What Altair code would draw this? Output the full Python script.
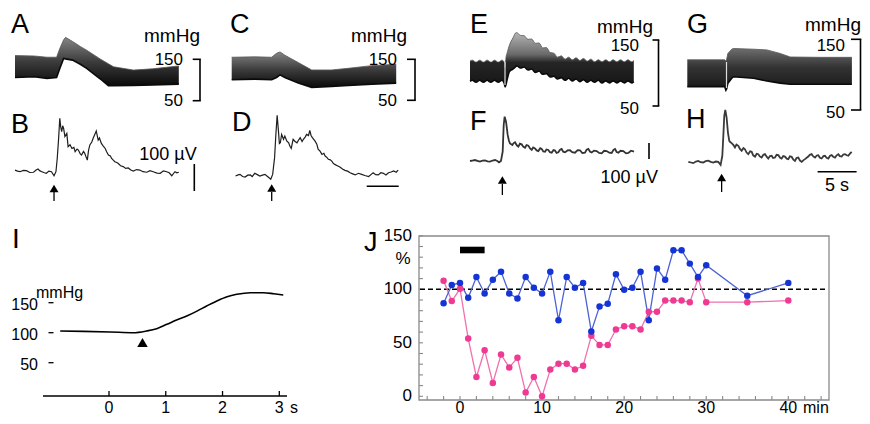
import altair as alt
import pandas as pd

OX, OY = 8, 8
FONT = "Liberation Sans"

# ---------------- data ----------------
# arterial pressure envelopes: (time s, systolic mmHg, diastolic mmHg)
a_bp = [(0, 159, 106), (3, 158, 108), (5, 155, 104), (6.5, 155, 106), (7.0, 176, 128),
        (7.6, 197, 152), (7.9, 203, 151), (9, 193, 148), (10.2, 181, 138), (11.2, 172, 128),
        (13.3, 151, 103), (14.6, 139, 86), (15.4, 132, 86), (18.5, 124, 87), (21.5, 127, 88),
        (25.6, 134, 90)]
c_bp = [(0, 155, 100), (3.6, 156, 101.7), (6.25, 155, 100), (7.0, 164.5, 105.6), (7.55, 168, 112),
        (8.3, 160, 105.6), (10.4, 142, 92), (12.5, 124, 81.4), (15.6, 124, 84), (18.2, 128, 86),
        (21.9, 134.5, 89), (25.7, 138, 92)]
e_bp = [(0.0, 118, 87.5), (0.3, 119.5, 89), (0.78, 116.5, 86), (1.25, 119.5, 89), (1.73, 116.5, 86),
        (2.2, 119.5, 89), (2.68, 116.5, 86), (3.15, 119.5, 89), (3.63, 116.5, 86), (4.1, 119.5, 89),
        (4.4, 116, 84), (4.5, 108, 79), (4.6, 122, 82), (4.8, 132, 92), (5.05, 142, 102),
        (5.5, 153, 106), (5.9, 161, 110), (6.0, 161, 111), (6.48, 157, 107.5), (6.95, 156.5, 109),
        (7.43, 151, 104.5), (7.9, 151.5, 106), (8.38, 145, 101), (8.85, 145.5, 103), (9.33, 138, 98),
        (9.8, 138.5, 99), (10.28, 131, 94), (10.75, 130, 95), (11.23, 124, 91), (11.7, 126, 93),
        (12.18, 121, 89), (12.65, 124, 92), (13.13, 120, 88), (13.6, 123, 91), (14.08, 119, 87),
        (14.55, 122, 90), (15.03, 118, 86), (15.5, 121, 89), (15.98, 117, 86), (16.45, 120, 89),
        (16.93, 117, 85), (17.4, 120, 88), (17.88, 117, 85), (18.35, 120, 88), (18.83, 117, 85),
        (19.3, 120, 88), (19.78, 117, 85), (20.25, 120, 88), (20.73, 117, 85), (21.0, 119, 87)]
g_bp = [(0, 121, 83), (2, 121, 83), (4.8, 121, 83), (4.95, 119, 78), (5.05, 122, 80),
        (5.2, 130, 88), (5.7, 136, 95), (5.9, 137, 97), (8.5, 136, 95), (10.2, 135, 91),
        (11.9, 130, 88), (13.2, 125, 86.5), (17.0, 124.5, 86.5), (21.1, 124.5, 86.5)]

# nerve activity traces: (time s, microvolts above baseline)
b_nerve = [(0.0, 6), (0.4, 2), (0.8, 0), (1.3, 5), (1.8, 4), (2.3, -3), (2.9, -2), (3.3, 6), (3.6, 10),
           (3.9, 3), (4.2, 0), (4.6, -4), (4.9, -6), (5.3, 2), (5.7, 0), (6.1, -15), (6.4, 0),
           (6.6, 49), (6.8, 117), (7.0, 198), (7.15, 165), (7.3, 148), (7.45, 170), (7.6, 160),
           (7.8, 130), (8.1, 142), (8.3, 93), (8.6, 100), (8.9, 86), (9.2, 90), (9.4, 74), (9.7, 84),
           (9.9, 80), (10.2, 66), (10.4, 62), (10.7, 75), (10.9, 68), (11.1, 55), (11.3, 43),
           (11.5, 80), (11.7, 99), (12.0, 110), (12.2, 123), (12.5, 140), (12.7, 151), (13.0, 117),
           (13.2, 125), (13.5, 105), (13.8, 95), (14.1, 86), (14.3, 75), (14.6, 62), (14.9, 58),
           (15.1, 49), (15.4, 42), (15.6, 37), (15.9, 34), (16.1, 31), (16.5, 22), (16.9, 19),
           (17.3, 12), (17.7, 14), (18.1, 6), (18.5, 2), (19.0, 8), (19.5, 6), (20.0, 0), (20.6, -2),
           (21.1, 4), (21.6, 0), (22.2, -5), (22.7, -6), (23.2, 3), (23.7, 0), (24.1, -4),
           (24.5, -15), (25.0, 0), (25.3, -4), (25.6, -2)]
d_nerve = [(0.6, 0), (1.0, 4), (1.3, 6), (1.7, -2), (2.1, -4), (2.5, 3), (2.9, 4), (3.2, -2), (3.6, 10),
           (4.0, 5), (4.4, 0), (4.8, 3), (5.2, 6), (5.5, 0), (5.7, -4), (6.1, -12), (6.4, 6), (6.7, 68),
           (6.9, 154), (7.1, 225), (7.3, 167), (7.45, 120), (7.6, 123), (7.8, 154), (8.1, 136),
           (8.3, 148), (8.6, 130), (8.9, 123), (9.1, 110), (9.3, 102), (9.6, 136), (9.9, 128),
           (10.2, 123), (10.5, 135), (10.7, 142), (11.0, 128), (11.2, 136), (11.5, 145), (11.7, 154),
           (12.0, 150), (12.2, 169), (12.4, 150), (12.6, 142), (13.0, 130), (13.3, 118), (13.5, 99),
           (13.8, 92), (14.1, 80), (14.4, 84), (14.6, 74), (14.9, 68), (15.1, 62), (15.4, 60),
           (15.6, 56), (15.9, 46), (16.1, 43), (16.5, 38), (16.9, 33), (17.3, 26), (17.7, 21),
           (18.1, 18), (18.5, 12), (18.9, 8), (19.3, 4), (19.8, 10), (20.3, 6), (20.8, 2), (21.4, -2),
           (21.8, 6), (22.1, 12), (22.5, 5), (22.9, 4), (23.3, 12), (23.7, 10), (24.1, 4), (24.5, 12),
           (24.9, 15), (25.3, 19), (25.7, 14), (26.0, 22)]
f_nerve = [(0, 0), (0.3, 3), (0.64, 6), (0.95, 1), (1.28, -4), (1.6, 2), (1.92, 4), (2.25, -2),
           (2.56, -4), (2.9, 3), (3.21, 6), (3.5, 0), (3.72, -8), (3.97, 0), (4.19, 58), (4.32, 225),
           (4.44, 277), (4.62, 246), (4.83, 163), (5.0, 125), (5.13, 110), (5.43, 100), (5.6, 112),
           (5.77, 117), (6.0, 98), (6.2, 90), (6.4, 108), (6.62, 104), (6.85, 88), (7.05, 83),
           (7.25, 100), (7.48, 96), (7.7, 78), (7.91, 69), (8.1, 85), (8.33, 79), (8.55, 66),
           (8.76, 62), (9.0, 80), (9.19, 75), (9.4, 60), (9.62, 58), (9.8, 72), (10.04, 69),
           (10.25, 55), (10.47, 52), (10.7, 68), (10.9, 65), (11.1, 50), (11.32, 54), (11.55, 70),
           (11.75, 75), (11.95, 58), (12.18, 54), (12.5, 66), (12.82, 67), (13.1, 55), (13.46, 52),
           (13.8, 68), (14.1, 67), (14.4, 50), (14.74, 52), (14.95, 70), (15.17, 75), (15.4, 58),
           (15.6, 54), (15.9, 65), (16.24, 62), (16.55, 50), (16.88, 48), (17.2, 64), (17.52, 62),
           (17.85, 52), (18.16, 50), (18.4, 70), (18.59, 75), (18.8, 56), (19.02, 52), (19.3, 64),
           (19.66, 62), (20.0, 48), (20.3, 50), (20.65, 64), (21.03, 58)]
h_nerve = [(0.13, 4), (0.45, 0), (0.77, -4), (1.1, 6), (1.41, 10), (1.7, 2), (2.05, 0), (2.35, 8),
           (2.69, 12), (3.0, 4), (3.33, 0), (3.65, 6), (3.97, 4), (4.27, -15), (4.49, 42), (4.62, 167),
           (4.74, 292), (4.87, 328), (5.04, 281), (5.21, 187), (5.38, 135), (5.5, 128), (5.68, 121),
           (5.9, 110), (6.11, 94), (6.3, 112), (6.54, 104), (6.75, 85), (6.97, 73), (7.2, 90),
           (7.39, 83), (7.6, 62), (7.82, 52), (8.05, 70), (8.25, 67), (8.45, 45), (8.68, 37),
           (8.9, 55), (9.1, 52), (9.3, 38), (9.53, 31), (9.75, 48), (9.96, 52), (10.2, 35),
           (10.38, 25), (10.6, 40), (10.81, 42), (11.0, 28), (11.24, 31), (11.45, 48), (11.67, 46),
           (11.9, 30), (12.09, 25), (12.3, 40), (12.52, 37), (12.75, 24), (12.95, 21), (13.15, 38),
           (13.38, 35), (13.6, 18), (13.8, 10), (14.0, 28), (14.23, 31), (14.45, 12), (14.66, 4),
           (14.9, 15), (15.09, 21), (15.3, 30), (15.51, 37), (15.7, 48), (15.94, 52), (16.15, 38),
           (16.37, 31), (16.6, 44), (16.79, 46), (17.0, 30), (17.22, 25), (17.45, 40), (17.65, 42),
           (17.85, 30), (18.08, 25), (18.3, 42), (18.5, 46), (18.7, 36), (18.93, 31), (19.15, 45),
           (19.36, 52), (19.55, 40), (19.79, 37), (20.0, 50), (20.21, 52), (20.45, 45), (20.64, 42),
           (20.85, 55), (21.07, 67)]
stim_t = {"B": 6.1, "D": 6.25, "F": 4.15, "H": 4.4}
bp_bracket = [50, 150]

# panel I: pressure vs time
i_t = [-0.86, -0.45, 0.02, 0.43, 0.66, 0.84, 1.02, 1.19, 1.37, 1.55, 1.72, 1.9, 2.08, 2.25, 2.49,
       2.72, 2.9, 3.07]
i_bp = [102.8, 102.2, 101.2, 100, 102.8, 106.7, 114, 121, 127.8, 136, 144.5, 153, 160, 164, 166.7,
        166.7, 165, 162.8]
i_stim = [0.59]
i_xticks = [0, 1, 2, 3]
i_xlabels = ["0", "1", "2", "3"]
i_yticks = [50, 100, 150]

# panel J: % of control vs minutes
j_min = [-2, -1, 0, 1, 2, 3, 4, 5, 6, 7, 8, 9, 10, 11, 12, 13, 14, 15, 16, 17, 18, 19, 20, 21, 22,
         23, 24, 25, 26, 27, 28, 29, 30, 35, 40]
j_blue = [87, 104, 106, 92, 111.5, 96, 109, 116.5, 96, 91.5, 111.5, 101.5, 96, 116.5, 71, 111.5,
          101.5, 106, 60.5, 84, 86.5, 114, 99.5, 101.5, 116.5, 71, 119.5, 109, 136.5, 136.5, 124,
          111.5, 122.5, 94, 106]
j_pink = [108, 89, 100.5, 54, 18, 43, 12.5, 39, 27, 36, 3.5, 18, 0, 25, 30.5, 30.5, 25, 28.5, 56.5,
          48, 48, 62.5, 65.5, 65.5, 62.5, 79, 79, 89.5, 89.5, 89.5, 88, 110, 88, 88, 89.5]
j_drug = [0, 3]
j_xticks = [0, 10, 20, 30, 40]
j_yticks = [0, 50, 100, 150]
j_xminor = [-4, -2, 0, 2, 4, 6, 8, 10, 12, 14, 16, 18, 20, 22, 24, 26, 28, 30, 32, 34, 36, 38, 40, 42, 44]
j_yminor = [0, 10, 20, 30, 40, 50, 60, 70, 80, 90, 100, 110, 120, 130, 140, 150]

# bottom row is lifted a little so its tick labels fit inside the page
SH = -4

# ---------------- scales: (domain, page-pixel range) ----------------
AB_X = ((0, 25.6), (15, 178.8))
CD_X = ((0, 25.7), (231.7, 396.2))
EF_X = ((0, 21.0), (470, 633.8))
GH_X = ((0, 21.1), (687.3, 851.9))
A_Y = ((50, 150), (100.7, 59.3))
C_Y = ((50, 150), (100.3, 59.3))
E_Y = ((50, 150), (106, 40))
G_Y = ((50, 150), (110, 39.3))
B_Y = ((0, 100), (171.7, 144.7))
D_Y = ((0, 100), (176, 149))
F_Y = ((0, 100), (161, 145))
H_Y = ((0, 100), (162.5, 146.5))
I_X = ((0, 3), (109, 279.3))
I_Y = ((50, 150), (366.7 + SH, 306.7 + SH))
J_X = ((0, 40), (460, 788.3))
J_Y = ((0, 150), (400.3 + SH, 239.8 + SH))


def sc(spec, off):
    dom, pix = spec
    return alt.Scale(domain=list(dom), range=[pix[0] - off, pix[1] - off], nice=False, zero=False)


def X(field, spec):
    return alt.X(field, type="quantitative", scale=sc(spec, OX), axis=None)


def Y(field, spec):
    return alt.Y(field, type="quantitative", scale=sc(spec, OY), axis=None)


def one():
    return alt.Data(values=[{"k": 0}])


def px(v):
    return alt.value(v - OX)


def py(v):
    return alt.value(v - OY)


def txt(s, x, y, size=17, align="left", baseline="middle"):
    return alt.Chart(alt.Data(values=[{"s": s}])).mark_text(
        font=FONT, fontSize=size, align=align, baseline=baseline, color="black"
    ).encode(text="s:N", x=px(x), y=py(y))


def grad(stops):
    return alt.Gradient(gradient="linear", x1=0, x2=0, y1=0, y2=1,
                        stops=[alt.GradientStop(color=c, offset=o) for o, c in stops])


def band(rows, xs, ys, stops, interp="linear"):
    df = pd.DataFrame(rows, columns=["t", "sys", "dia"])
    area = alt.Chart(df).mark_area(color=grad(stops), interpolate=interp).encode(
        x=X("t", xs), y=Y("sys", ys), y2=alt.Y2("dia"))
    low = alt.Chart(df).mark_line(color="#0a0a0a", strokeWidth=1.6, interpolate=interp).encode(
        x=X("t", xs), y=Y("dia", ys))
    top = alt.Chart(df).mark_line(color="#555555", strokeWidth=0.8, interpolate=interp).encode(
        x=X("t", xs), y=Y("sys", ys))
    return [area, top, low]


def trace(rows, xs, ys, color="#1e1e1e", w=1.2):
    df = pd.DataFrame(rows, columns=["t", "uv"])
    return alt.Chart(df).mark_line(color=color, strokeWidth=w).encode(x=X("t", xs), y=Y("uv", ys))


def arrow(t, xs, ytri, y0, y1, size=80):
    df = pd.DataFrame({"t": [t]})
    tri = alt.Chart(df).mark_point(shape="triangle-up", filled=True, color="black", size=size,
                                   opacity=1).encode(x=X("t", xs), y=py(ytri))
    stem = alt.Chart(df).mark_rule(color="black", strokeWidth=1.3).encode(x=X("t", xs), y=py(y0), y2=py(y1))
    return [tri, stem]


def bracket(ys, xv, xt):
    df = pd.DataFrame({"lo": [bp_bracket[0]], "hi": [bp_bracket[1]]})
    dft = pd.DataFrame({"v": bp_bracket})
    vert = alt.Chart(df).mark_rule(color="black", strokeWidth=1.6).encode(
        x=px(xv), y=Y("lo", ys), y2=alt.Y2("hi"))
    ticks = alt.Chart(dft).mark_rule(color="black", strokeWidth=1.6).encode(
        y=Y("v", ys), x=px(xt), x2=px(xv + 0.8))
    return [vert, ticks]


def hrule(x0, x1, y, w=1.6, color="black"):
    return alt.Chart(one()).mark_rule(color=color, strokeWidth=w).encode(x=px(x0), x2=px(x1), y=py(y))


def vrule(x, y0, y1, w=1.6, color="black"):
    return alt.Chart(one()).mark_rule(color=color, strokeWidth=w).encode(x=px(x), y=py(y0), y2=py(y1))


layers = []

# ---------------- top traces ----------------
stopsA = [(0, "#858585"), (0.5, "#3c3c3c"), (1, "#0a0a0a")]
layers += band(a_bp, AB_X, A_Y, stopsA)
layers += band(c_bp, CD_X, C_Y, stopsA)
layers += band(e_bp, EF_X, E_Y, [(0, "#b4b4b4"), (0.4, "#6a6a6a"), (0.55, "#252525"), (1, "#151515")],
               interp="monotone")
layers += band(g_bp, GH_X, G_Y, [(0, "#6e6e6e"), (0.45, "#333333"), (1, "#181818")])
# stimulus artifacts in E and G
layers.append(vrule(505, 62, 85, w=1.2, color="#dddddd"))
layers.append(vrule(726.5, 62, 88, w=1.2, color="#dddddd"))

layers.append(trace(b_nerve, AB_X, B_Y))
layers.append(trace(d_nerve, CD_X, D_Y))
layers.append(trace(f_nerve, EF_X, F_Y, color="#333333", w=1.8))
layers.append(trace(h_nerve, GH_X, H_Y, color="#3a3a3a", w=1.8))

layers += arrow(stim_t["B"], AB_X, 188.5, 192, 201)
layers += arrow(stim_t["D"], CD_X, 188, 192, 201)
layers += arrow(stim_t["F"], EF_X, 180, 184, 195)
layers += arrow(stim_t["H"], GH_X, 177.5, 181, 192)

layers += bracket(A_Y, 200, 192.7)
layers += bracket(C_Y, 415, 407)
layers += bracket(E_Y, 658.5, 652.5)
layers += bracket(G_Y, 860.5, 851)

layers.append(vrule(194.3, 164, 191))          # 100 uV (B)
layers.append(hrule(366.7, 398.7, 186.3))      # 5 s (D)
layers.append(vrule(649, 143, 159))            # 100 uV (F)
layers.append(hrule(817.6, 856.6, 171.7))      # 5 s (H)

layers += [
    txt("A", 11, 25, 27), txt("mmHg", 200, 41.5, 19, "right", "alphabetic"),
    txt("150", 183, 59.5, 17, "right"), txt("50", 183, 101, 17, "right"),
    txt("B", 11, 125, 27), txt("100 µV", 168, 155, 18, "center"),
    txt("C", 230, 25, 27), txt("mmHg", 407, 41.5, 19, "right", "alphabetic"),
    txt("150", 397, 59.5, 17, "right"), txt("50", 397, 101, 17, "right"),
    txt("D", 232, 123, 27),
    txt("E", 470, 25, 27), txt("mmHg", 653, 32.7, 19, "right", "alphabetic"),
    txt("150", 639, 46, 17, "right"), txt("50", 639, 109, 17, "right"),
    txt("F", 470, 122, 27), txt("100 µV", 658, 177.5, 18, "right"),
    txt("G", 687, 25, 27), txt("mmHg", 805, 31, 19, "left", "alphabetic"),
    txt("150", 845, 46, 17, "right"), txt("50", 845, 113, 17, "right"),
    txt("H", 686, 120, 27), txt("5 s", 837, 186, 18, "center"),
]

# ---------------- panel I ----------------
dfi = pd.DataFrame({"t": i_t, "bp": i_bp})
layers.append(alt.Chart(dfi).mark_line(color="black", strokeWidth=1.6, interpolate="monotone").encode(
    x=X("t", I_X), y=Y("bp", I_Y)))
layers.append(alt.Chart(pd.DataFrame({"t": i_stim})).mark_point(
    shape="triangle-up", filled=True, color="black", size=110, opacity=1).encode(
    x=X("t", I_X), y=py(346.5 + SH)))
layers.append(hrule(43, 287, 400 + SH, w=1.4))
dfix = pd.DataFrame({"v": i_xticks, "lab": i_xlabels})
layers.append(alt.Chart(dfix).mark_rule(color="black", strokeWidth=1.3).encode(
    x=X("v", I_X), y=py(395 + SH), y2=py(400 + SH)))
layers.append(alt.Chart(dfix).mark_text(font=FONT, fontSize=16, baseline="middle").encode(
    x=X("v", I_X), y=py(407.5), text="lab:N"))
dfiy = pd.DataFrame({"v": i_yticks})
layers.append(alt.Chart(dfiy).mark_rule(color="black", strokeWidth=1.3).encode(
    y=Y("v", I_Y), x=px(48.5), x2=px(53.5)))
layers.append(alt.Chart(dfiy).mark_text(font=FONT, fontSize=16, baseline="middle", align="right", dy=2).encode(
    y=Y("v", I_Y), x=px(38), text="v:Q"))
layers += [txt("I", 12, 244 + SH, 28), txt("mmHg", 36, 302 + SH, 16, "left", "alphabetic"),
           txt("s", 290, 407.5, 16)]

# ---------------- panel J ----------------
FR = "#8a8a8a"
layers.append(alt.Chart(one()).mark_rect(fill=None, stroke=FR, strokeWidth=1.3).encode(
    x=px(419), x2=px(829), y=py(240 + SH), y2=py(404 + SH)))
layers.append(alt.Chart(pd.DataFrame({"v": j_yminor})).mark_rule(color=FR, strokeWidth=1.1).encode(
    y=Y("v", J_Y), x=px(419), x2=px(423)))
layers.append(alt.Chart(pd.DataFrame({"v": j_xminor})).mark_rule(color=FR, strokeWidth=1.1).encode(
    x=X("v", J_X), y=py(400 + SH), y2=py(404 + SH)))
layers.append(alt.Chart(pd.DataFrame({"v": j_yticks})).mark_text(
    font=FONT, fontSize=17, align="right", baseline="middle").encode(y=Y("v", J_Y), x=px(412), text="v:Q"))
layers.append(alt.Chart(pd.DataFrame({"v": j_xticks})).mark_text(
    font=FONT, fontSize=16, align="center", baseline="middle").encode(x=X("v", J_X), y=py(407.5), text="v:Q"))
layers.append(alt.Chart(pd.DataFrame({"v": [100]})).mark_rule(
    color="black", strokeWidth=1.6, strokeDash=[5, 3]).encode(y=Y("v", J_Y), x=px(420), x2=px(828)))
layers.append(alt.Chart(pd.DataFrame({"a": [j_drug[0]], "b": [j_drug[1]]})).mark_rect(color="black").encode(
    x=X("a", J_X), x2=alt.X2("b"), y=py(250.7 + SH), y2=py(257.3 + SH)))

dfj = pd.DataFrame({"m": j_min, "blue": j_blue, "pink": j_pink})
PINK, BLUE = "#ee3a93", "#1434d6"
layers.append(alt.Chart(dfj).mark_line(color="#f170ad", strokeWidth=1.3).encode(x=X("m", J_X), y=Y("pink", J_Y)))
layers.append(alt.Chart(dfj).mark_line(color="#4d62d4", strokeWidth=1.3).encode(x=X("m", J_X), y=Y("blue", J_Y)))
layers.append(alt.Chart(dfj).mark_circle(color=PINK, size=42, opacity=1).encode(x=X("m", J_X), y=Y("pink", J_Y)))
layers.append(alt.Chart(dfj).mark_circle(color=BLUE, size=42, opacity=1).encode(x=X("m", J_X), y=Y("blue", J_Y)))
layers += [txt("J", 364, 247 + SH, 27), txt("%", 403, 263 + SH, 17, "center"), txt("min", 803, 407.5, 16)]

chart = alt.layer(*layers).resolve_scale(x="independent", y="independent").properties(
    width=854, height=408, padding=0, autosize="none", background="white"
).configure_view(stroke=None)

chart.save("out.html", embed_options={"renderer": "svg", "actions": False})
